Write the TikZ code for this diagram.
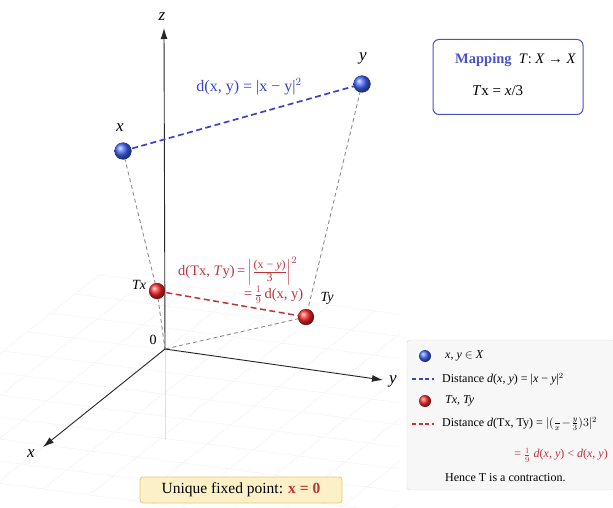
\documentclass[tikz,border=0pt]{standalone}
\usepackage{amsmath}
\usepackage{fontspec}
\setmainfont{Liberation Serif}
\usetikzlibrary{arrows.meta}
\definecolor{bblue}{HTML}{3A44C4}
\definecolor{rred}{HTML}{C0323A}
\definecolor{ballb}{HTML}{4468FF}
\definecolor{ballr}{HTML}{FF2A2A}
\definecolor{mapblue}{HTML}{4A52C8}
\definecolor{fixfill}{HTML}{FCF1C6}
\definecolor{fixdraw}{HTML}{E8C770}
\newcommand{\smallpart}[1]{\text{\fontsize{12}{12}\selectfont #1}}
\tikzset{
  axis/.style={line width=0.9pt, black!85, -{Latex[length=11pt,width=7pt]}},
  bball/.style={circle, inner sep=0pt, minimum size=17pt, ball color=ballb},
  rball/.style={circle, inner sep=0pt, minimum size=16pt, ball color=ballr},
  bdash/.style={bblue, line width=1.7pt, dash pattern=on 6pt off 3.5pt},
  rdash/.style={rred, line width=1.5pt, dash pattern=on 6pt off 3.5pt},
  gdash/.style={black!45, line width=0.9pt, dash pattern=on 4pt off 3pt},
  gridl/.style={black!5, line width=0.5pt},
  axlab/.style={font=\itshape\fontsize{17}{17}\selectfont},
  ptlab/.style={font=\itshape\fontsize{14}{14}\selectfont},
  legtxt/.style={font=\fontsize{12}{13}\selectfont, anchor=west, inner sep=0pt},
  legball/.style={circle, inner sep=0pt, minimum size=12pt},
}
\begin{document}
\begin{tikzpicture}[x=1pt,y=-1pt]
\useasboundingbox (0,0) rectangle (613,508);
% floor grid
\begin{scope}
\clip (0,0) rectangle (400,508);
\foreach \a in {-3,...,7} {
  \draw[gridl] ({165-24*\a-46*3},{350+19*\a-6*3}) -- ({165-24*\a+46*9},{350+19*\a+6*9});
}
\foreach \b in {-3,...,9} {
  \draw[gridl] ({165+46*\b+24*3},{350+6*\b-19*3}) -- ({165+46*\b-24*7},{350+6*\b+19*7});
}
\end{scope}
\coordinate (O) at (165,349);
\coordinate (zend) at (164,28);
\coordinate (yend) at (383,380);
\coordinate (xend) at (43,447);
\draw[black!12, line width=0.6pt] (O) -- (165,440);
% dashed projection lines
\node[bball] (px) at (123,151) {};
\node[bball] (py) at (362,84) {};
\node[rball] (tx) at (157,291) {};
\node[rball] (ty) at (306,317) {};
\draw[gdash] (px.center) -- (tx.center);
\draw[gdash] (tx.center) -- (O);
\draw[gdash] (py.center) -- (ty.center);
\draw[gdash] (ty.center) -- (O);
% axes
\draw[axis] (O) -- (zend);
\draw[axis] (O) -- (yend);
\draw[axis] (O) -- (xend);
\node[axlab] (zl) at (162,17) {z};
\node[axlab] (yl) at (393,381) {y};
\node[axlab] (xl) at (31,454) {x};
\node[font=\fontsize{14}{14}\selectfont] (zero) at (153,340) {0};
% balls on top of connectors
\draw[bdash] (px.center) -- (py.center);
\node[bball] at (px) {};
\node[bball] at (py) {};
\draw[rdash] (tx.center) -- (ty.center);
\node[rball] at (tx) {};
\node[rball] at (ty) {};
\node[axlab] (pxl) at (120,128) {x};
\node[axlab] (pyl) at (363,58) {y};
\node[ptlab] (txl) at (139,285) {Tx};
\node[ptlab] (tyl) at (327,298) {Ty};
% distance labels
\node[text=bblue, font=\fontsize{16}{16}\selectfont] (dxy) at (249,87) {d(x, y) = |x − y|$^2$};
\node[text=rred, font=\fontsize{14.5}{14.5}\selectfont, anchor=west, inner sep=0pt] (dt1) at (178,271) {d(Tx, \textit{T}y)\,=\,$\Bigl|\frac{\smallpart{(x − \textit{y})}}{\smallpart{3}}\Bigr|^2$};
\node[text=rred, font=\fontsize{14.5}{14.5}\selectfont, anchor=west, inner sep=0pt] (dt2) at (244,295) {=\,$\frac{1}{9}$\,d(x, y)};
% mapping box
\node[draw=mapblue, rounded corners=6pt, line width=1pt, minimum width=150pt, minimum height=75pt] (map) at (508,77) {};
\node[font=\fontsize{14.5}{14.5}\selectfont, anchor=west, inner sep=0pt] (mapt) at (455,60) {\textcolor{mapblue}{\textbf{Mapping}}\ \ \textit{T}: \textit{X} → \textit{X}};
\node[font=\fontsize{15}{15}\selectfont, anchor=west, inner sep=0pt] (mapf) at (472,91) {\textit{T}x = \textit{x}/3};
% legend
\node[fill=black!3, draw=black!15, rounded corners=3pt, minimum width=208pt, minimum height=150pt, inner sep=0pt] (leg) at (511,415) {};
\node[legball, ball color=ballb] (lb1) at (425,356) {};
\node[legtxt] (lt1) at (445,356) {\textit{x}, \textit{y} $\in$ \textit{X}};
\coordinate (ld1a) at (412,379);
\coordinate (ld1b) at (434,379);
\draw[bblue, line width=1.1pt, dash pattern=on 4pt off 2.5pt] (ld1a) -- (ld1b);
\node[legtxt] (lt2) at (442,379) {Distance \textit{d}(\textit{x}, \textit{y}) = |\textit{x} − \textit{y}|$^2$};
\node[legball, ball color=ballr] (lb2) at (425,401) {};
\node[legtxt] (lt3) at (445,401) {\textit{Tx}, \textit{Ty}};
\coordinate (ld2a) at (412,424);
\coordinate (ld2b) at (434,424);
\draw[rred, line width=1.1pt, dash pattern=on 4pt off 2.5pt] (ld2a) -- (ld2b);
\node[legtxt] (lt4) at (442,424) {Distance \textit{d}(Tx, Ty) = $|(\tfrac{}{x}\!-\!\tfrac{y}{3})3|^2$};
\node[legtxt, text=rred, anchor=east] (lt5) at (608,455) {= $\tfrac{1}{9}$ \textit{d}(\textit{x}, \textit{y}) < \textit{d}(\textit{x}, \textit{y})};
\node[legtxt] (lt6) at (445,478) {Hence T is a contraction.};
% fixed point box
\node[fill=fixfill, draw=fixdraw, rounded corners=3pt, line width=0.8pt, minimum width=202pt, minimum height=26pt, font=\fontsize{15.5}{15.5}\selectfont] (fix) at (241,490) {Unique fixed point: \textcolor{rred}{\textbf{x = 0}}};
\end{tikzpicture}
\end{document}
